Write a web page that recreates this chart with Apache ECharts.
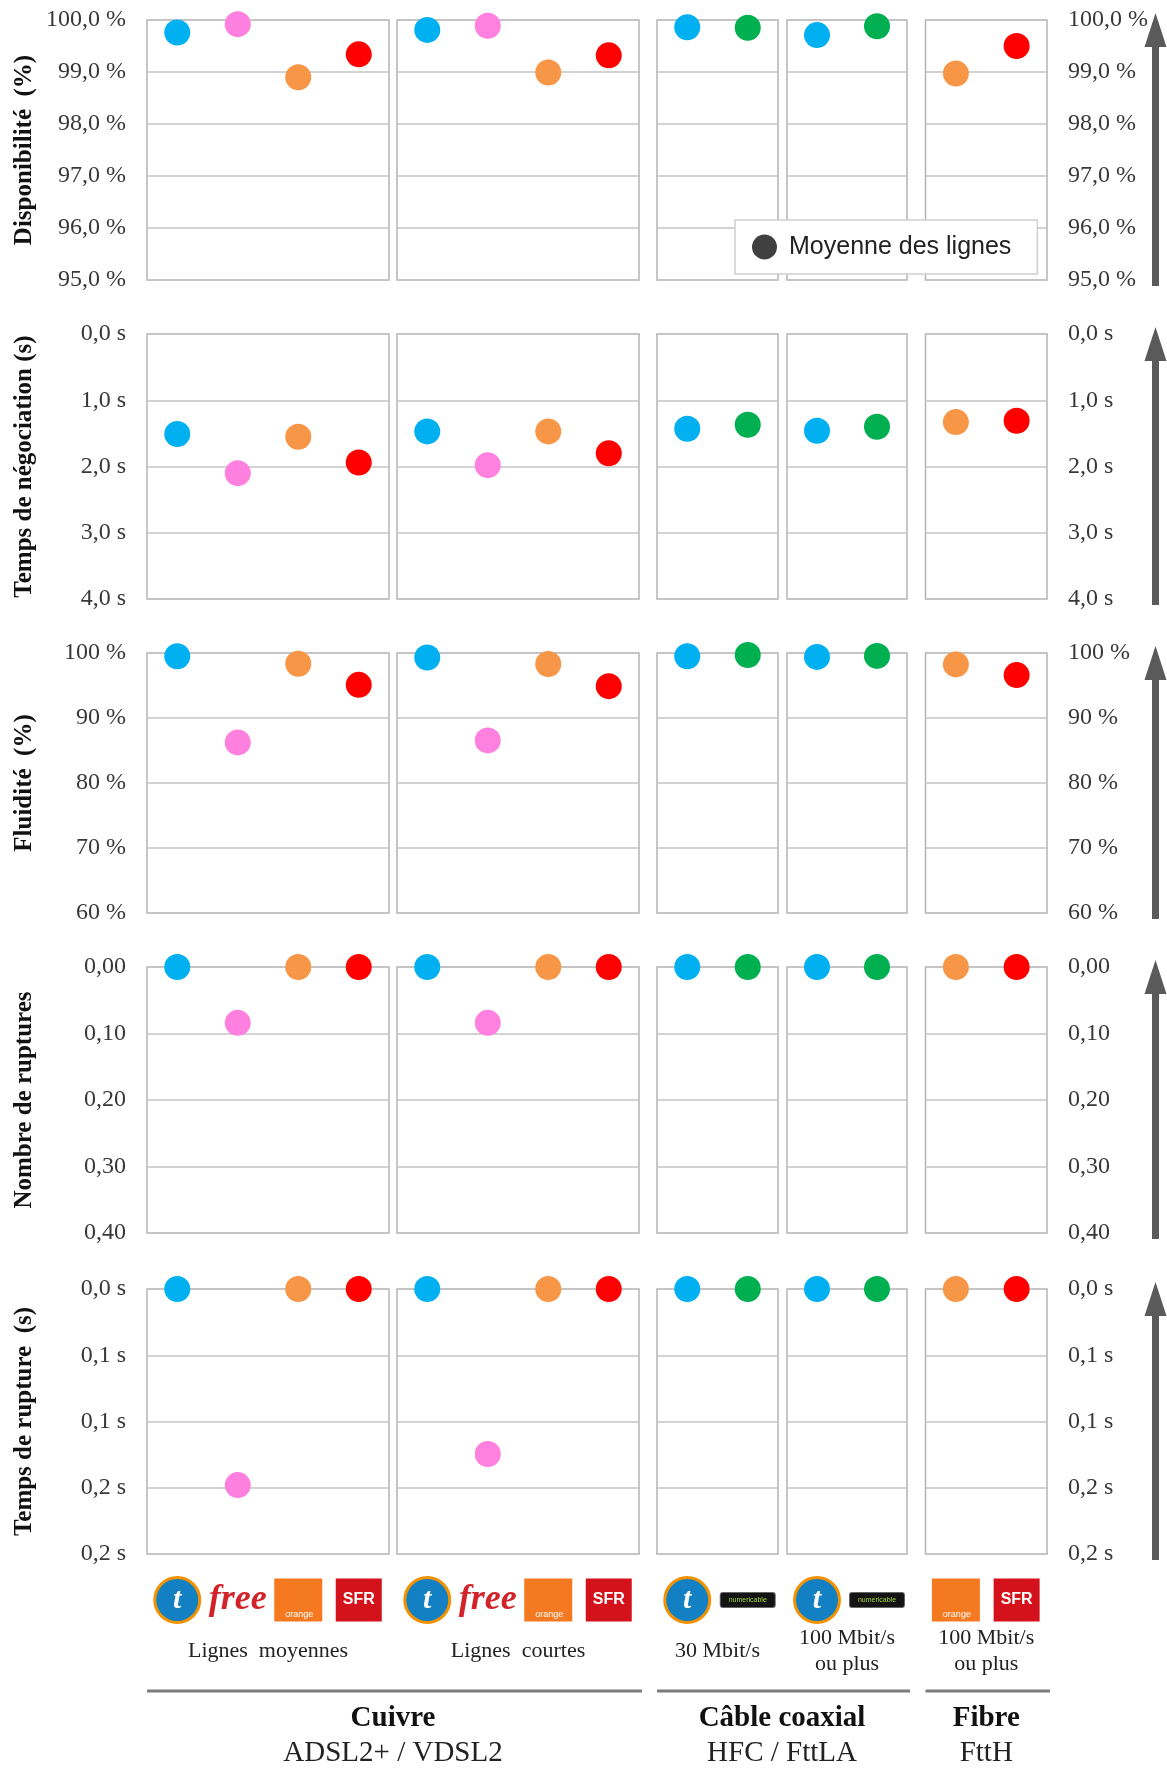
<!DOCTYPE html>
<html><head><meta charset="utf-8">
<script src="https://cdn.jsdelivr.net/npm/echarts@6/dist/echarts.min.js"></script>
<style>html,body{margin:0;padding:0;background:#fff}#chart{width:1167px;height:1771px}</style>
</head><body><div id="chart"></div>
<script>
// ---- categories ----
const panelCategories = [
  ['Bouygues Telecom', 'Free', 'Orange', 'SFR'],
  ['Bouygues Telecom', 'Free', 'Orange', 'SFR'],
  ['Bouygues Telecom', 'Numericable'],
  ['Bouygues Telecom', 'Numericable'],
  ['Orange', 'SFR']
];
const panelNames = ['Lignes  moyennes', 'Lignes  courtes', '30 Mbit/s', '100 Mbit/s\nou plus', '100 Mbit/s\nou plus'];
const groupTitles = ['Cuivre', 'Câble coaxial', 'Fibre'];
const groupSubtitles = ['ADSL2+ / VDSL2', 'HFC / FttLA', 'FttH'];
const groupPanels = [[0, 1], [2, 3], [4]];
const rowTitles = ['Disponibilité  (%)', 'Temps de négociation (s)', 'Fluidité  (%)', 'Nombre de ruptures', 'Temps de rupture  (s)'];
const legendName = 'Moyenne des lignes';

// ---- series values (per panel, in category order) ----
const disponibilite = [[99.76, 99.92, 98.90, 99.34], [99.81, 99.89, 98.99, 99.32], [99.86, 99.85], [99.71, 99.88], [98.97, 99.50]];
const negociation = [[1.51, 2.10, 1.55, 1.94], [1.47, 1.98, 1.47, 1.80], [1.43, 1.37], [1.46, 1.40], [1.33, 1.31]];
const fluidite = [[99.5, 86.25, 98.35, 95.1], [99.3, 86.55, 98.3, 94.9], [99.5, 99.7], [99.4, 99.55], [98.25, 96.6]];
const ruptures = [[0, 0.084, 0, 0], [0, 0.084, 0, 0], [0, 0], [0, 0], [0, 0]];
const tempsRupture = [[0, 0.148, 0, 0], [0, 0.1245, 0, 0], [0, 0], [0, 0], [0, 0]];

// ---- tick labels ----
const dispoTicks = ['95,0 %', '96,0 %', '97,0 %', '98,0 %', '99,0 %', '100,0 %'];
const negoTicks = ['0,0 s', '1,0 s', '2,0 s', '3,0 s', '4,0 s'];
const fluidTicks = ['60 %', '70 %', '80 %', '90 %', '100 %'];
const ruptTicks = ['0,00', '0,10', '0,20', '0,30', '0,40'];
const tempsTicks = ['0,0 s', '0,1 s', '0,1 s', '0,2 s', '0,2 s'];

const brandColors = {
  'Bouygues Telecom': '#00b0f0', 'Free': '#ff80df', 'Orange': '#f79646', 'SFR': '#ff0000', 'Numericable': '#00b050'
};

// ---- layout ----
const rowTop = [20, 334, 653, 967, 1289];
const rowHeight = [260, 265, 260, 266, 265];
const colLeft = [147, 397, 657, 787, 925.5];
const colWidth = [242, 242, 121, 120, 121.5];
const SERIF = '"Liberation Serif", "Times New Roman", serif';
const SANS = '"Liberation Sans", Arial, sans-serif';

const rows = [
  { title: rowTitles[0], values: disponibilite, min: 95, max: 100, interval: 1, inverse: false, labels: dispoTicks },
  { title: rowTitles[1], values: negociation, min: 0, max: 4, interval: 1, inverse: true, labels: negoTicks },
  { title: rowTitles[2], values: fluidite, min: 60, max: 100, interval: 10, inverse: false, labels: fluidTicks },
  { title: rowTitles[3], values: ruptures, min: 0, max: 0.4, interval: 0.1, inverse: true, labels: ruptTicks },
  { title: rowTitles[4], values: tempsRupture, min: 0, max: 0.2, interval: 0.05, inverse: true, labels: tempsTicks }
];

const logoRich = {
  bouygues: { width: 42, height: 42, lineHeight: 42, align: 'center', borderRadius: 21, backgroundColor: '#1380c4',
    borderColor: '#f39200', borderWidth: 3, color: '#ffffff', fontFamily: SERIF, fontSize: 30, fontWeight: 'bold', fontStyle: 'italic' },
  free: { color: '#d2232a', fontFamily: SERIF, fontSize: 36, fontStyle: 'italic', fontWeight: 'bold', lineHeight: 43 },
  orange: { width: 42, height: 10, lineHeight: 10, padding: [31, 2, 2, 4], backgroundColor: '#f47920', color: '#ffffff',
    fontFamily: SANS, fontSize: 9 },
  sfr: { width: 46, height: 43, lineHeight: 43, align: 'center', backgroundColor: '#d3121b', color: '#ffffff',
    fontFamily: SANS, fontSize: 16, fontWeight: 'bold' },
  num: { width: 54, height: 14, lineHeight: 14, align: 'center', backgroundColor: '#141414', borderColor: '#666', borderWidth: 1,
    borderRadius: 2, color: '#a6d23c', fontFamily: SANS, fontSize: 7 }
};
function logoOf(cat) {
  if (cat === 'Bouygues Telecom') return '{bouygues|t}';
  if (cat === 'Free') return '{free|free}';
  if (cat === 'Orange') return '{orange|orange}';
  if (cat === 'SFR') return '{sfr|SFR}';
  return '{num|numericable}';
}

const grids = [], xAxes = [], yAxes = [], series = [];
const lastRow = rows.length - 1, lastCol = panelCategories.length - 1;
rows.forEach((row, r) => {
  panelCategories.forEach((cats, p) => {
    const idx = grids.length;
    grids.push({ left: colLeft[p], top: rowTop[r], width: colWidth[p], height: rowHeight[r],
      show: true, borderColor: '#b4b4b4', borderWidth: 1.5, backgroundColor: 'transparent' });
    const isLast = r === lastRow;
    xAxes.push({
      type: 'category', gridIndex: idx, data: cats, boundaryGap: true,
      axisLine: { show: false }, axisTick: { show: false }, splitLine: { show: false },
      axisLabel: isLast ? { show: true, interval: 0, margin: 46, verticalAlign: 'middle', formatter: v => logoOf(v), rich: logoRich } : { show: false },
      name: isLast ? panelNames[p] : '', nameLocation: 'middle', nameGap: 97,
      nameTextStyle: { fontFamily: SERIF, fontSize: 22, lineHeight: 26, color: '#222', verticalAlign: 'middle' }
    });
    const showLab = p === 0 || p === lastCol;
    yAxes.push({
      type: 'value', gridIndex: idx, min: row.min, max: row.max, interval: row.interval, inverse: row.inverse,
      position: p === lastCol ? 'right' : 'left',
      axisLine: { show: false }, axisTick: { show: false },
      splitLine: { show: true, lineStyle: { color: '#c4c4c4', width: 1.5 } },
      axisLabel: { show: showLab, margin: 21, fontFamily: SERIF, fontSize: 24, color: '#383838',
        formatter: v => row.labels[Math.round((v - row.min) / row.interval)] },
      name: p === 0 ? row.title : '', nameLocation: 'middle', nameGap: 110, nameRotate: 90,
      nameTextStyle: { fontFamily: SERIF, fontWeight: 'bold', fontSize: 25, color: '#111' }
    });
    series.push({
      type: 'scatter', xAxisIndex: idx, yAxisIndex: idx, symbolSize: 26, clip: false, z: 5,
      itemStyle: { opacity: 1 },
      data: row.values[p].map((v, i) => ({ value: v, itemStyle: { color: brandColors[cats[i]], opacity: 1 } }))
    });
  });
});
series.push({ name: legendName, type: 'scatter', xAxisIndex: 0, yAxisIndex: 0, data: [], itemStyle: { color: '#404040', opacity: 1 } });

// ---- decorations: arrows, group lines and titles ----
const graphics = [];
const arrowX = 1155.5;
rows.forEach((row, r) => {
  const tip = rowTop[r] - 7, end = rowTop[r] + rowHeight[r] + 6;
  graphics.push({ type: 'rect', shape: { x: arrowX - 3.5, y: tip + 30, width: 7, height: end - tip - 30 }, style: { fill: '#5a5a5a' } });
  graphics.push({ type: 'polygon', shape: { points: [[arrowX - 11, tip + 34], [arrowX, tip], [arrowX + 11, tip + 34]] }, style: { fill: '#5a5a5a' } });
});
groupPanels.forEach((ps, g) => {
  const x0 = colLeft[ps[0]], x1 = colLeft[ps[ps.length - 1]] + colWidth[ps[ps.length - 1]];
  graphics.push({ type: 'line', shape: { x1: x0, y1: 1691, x2: x1 + 3, y2: 1691 }, style: { stroke: '#7c7c7c', lineWidth: 3 } });
  const cx = (x0 + x1) / 2;
  graphics.push({ type: 'text', x: cx, y: 1719, style: { text: groupTitles[g], font: 'bold 29px ' + SERIF, fill: '#111',
    align: 'center', verticalAlign: 'middle', textAlign: 'center', textVerticalAlign: 'middle' } });
  graphics.push({ type: 'text', x: cx, y: 1753, style: { text: groupSubtitles[g], font: '29px ' + SERIF, fill: '#222',
    align: 'center', verticalAlign: 'middle', textAlign: 'center', textVerticalAlign: 'middle' } });
});

const chart = echarts.init(document.getElementById('chart'));
chart.setOption({
  animation: false,
  backgroundColor: '#ffffff',
  grid: grids, xAxis: xAxes, yAxis: yAxes, series: series,
  legend: {
    data: [legendName], left: 735, top: 220, icon: 'circle', itemWidth: 25, itemHeight: 25,
    padding: [14, 26, 14, 17], backgroundColor: '#ffffff', borderColor: '#d0d0d0', borderWidth: 1.5,
    selectedMode: false, z: 10,
    itemStyle: { opacity: 1 },
    textStyle: { fontFamily: SANS, fontSize: 25, color: '#222', lineHeight: 26, padding: [0, 0, 0, 7] }
  },
  graphic: graphics
});
</script></body></html>
